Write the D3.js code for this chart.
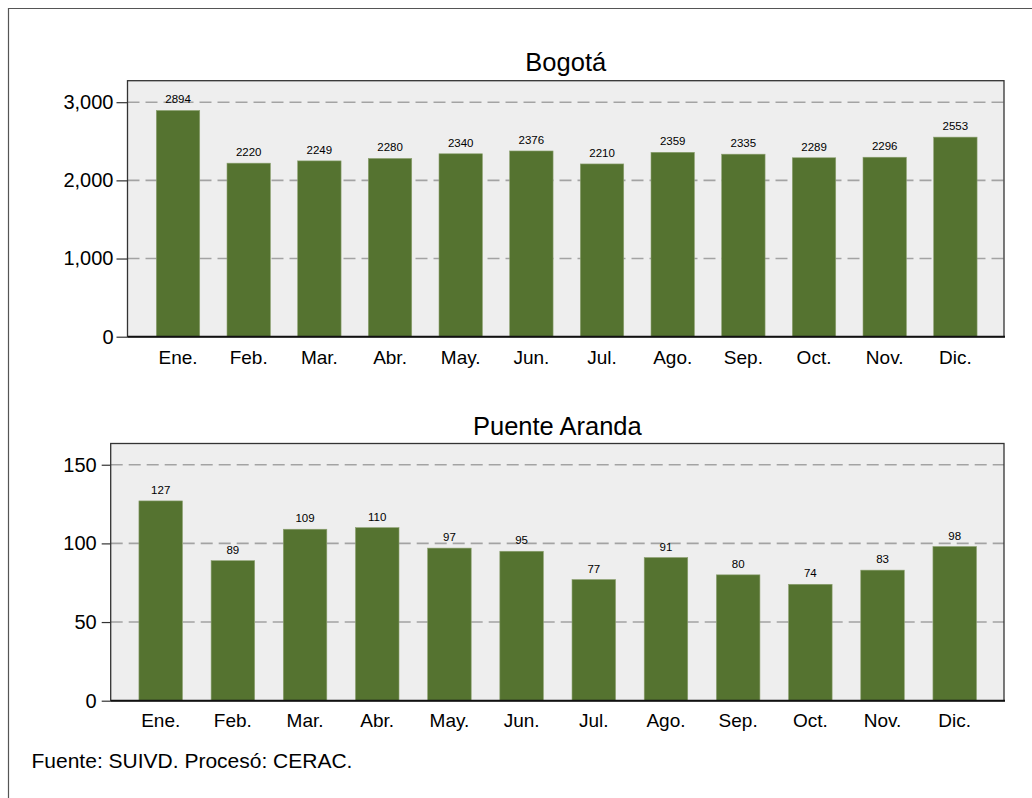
<!DOCTYPE html>
<html>
<head>
<meta charset="utf-8">
<script src="https://cdn.jsdelivr.net/npm/d3@7"></script>
<style>
  html, body { margin: 0; padding: 0; background: #fff; }
  svg text { font-family: "Liberation Sans", Arial, sans-serif; fill: #000; }
</style>
</head>
<body>
<svg id="chart" width="1032" height="798"></svg>
<script>
// Monthly counts, Bogotá and Puente Aranda
const months = ["Ene.", "Feb.", "Mar.", "Abr.", "May.", "Jun.", "Jul.", "Ago.", "Sep.", "Oct.", "Nov.", "Dic."];
const bogotaValues = [2894, 2220, 2249, 2280, 2340, 2376, 2210, 2359, 2335, 2289, 2296, 2553];
const puenteArandaValues = [127, 89, 109, 110, 97, 95, 77, 91, 80, 74, 83, 98];
const bogotaTicks = [0, 1000, 2000, 3000];
const puenteArandaTicks = [0, 50, 100, 150];
const sourceNote = "Fuente: SUIVD. Procesó: CERAC.";

const svg = d3.select("#chart");
const BAR = "#557330";

// outer frame (top and left edges)
svg.append("path")
  .attr("d", "M8.5,798 L8.5,8.5 L1032,8.5")
  .attr("fill", "none").attr("stroke", "#555").attr("stroke-width", 1.2);

function panel(cfg) {
  const g = svg.append("g");
  const { left, right, top, bottom } = cfg.plot;

  const y = d3.scaleLinear().domain([0, cfg.yMax]).range([bottom, top]);
  const x = d3.scaleBand().domain(months)
    .range(cfg.bandRange)
    .paddingInner(cfg.pad).paddingOuter(cfg.pad / 2);

  // plot background
  g.append("rect")
    .attr("x", left).attr("y", top)
    .attr("width", right - left).attr("height", bottom - top)
    .attr("fill", "#eeeeee");

  // dashed gridlines
  g.append("g").selectAll("line")
    .data(cfg.ticks.filter(d => d > 0))
    .join("line")
    .attr("x1", left).attr("x2", right)
    .attr("y1", d => y(d)).attr("y2", d => y(d))
    .attr("stroke", "#a3a3a3").attr("stroke-width", 1.6)
    .attr("stroke-dasharray", "12,6");

  // bars
  g.append("g").selectAll("rect")
    .data(cfg.values)
    .join("rect")
    .attr("x", (d, i) => x(months[i]))
    .attr("y", d => y(d))
    .attr("width", x.bandwidth())
    .attr("height", d => bottom - y(d))
    .attr("fill", BAR)
    .attr("stroke", "#8ca070").attr("stroke-width", 0.6);

  // value labels
  g.append("g").selectAll("text")
    .data(cfg.values)
    .join("text")
    .attr("x", (d, i) => x(months[i]) + x.bandwidth() / 2)
    .attr("y", d => y(d) - 7)
    .attr("text-anchor", "middle")
    .attr("font-size", 11.5)
    .text(d => d);

  // plot frame
  g.append("rect")
    .attr("x", left).attr("y", top)
    .attr("width", right - left).attr("height", bottom - top)
    .attr("fill", "none").attr("stroke", "#333").attr("stroke-width", 1.3);
  g.append("line")
    .attr("x1", left).attr("x2", right + 1)
    .attr("y1", bottom).attr("y2", bottom)
    .attr("stroke", "#111").attr("stroke-width", 2);

  // y axis
  const yAxis = d3.axisLeft(y)
    .tickValues(cfg.ticks)
    .tickSize(cfg.tickLen)
    .tickPadding(cfg.tickPad)
    .tickFormat(d3.format(","));
  const ya = g.append("g").attr("transform", `translate(${left},0)`).call(yAxis);
  ya.select(".domain").remove();
  ya.selectAll(".tick line").attr("stroke", "#333").attr("stroke-width", 1.2);
  ya.selectAll(".tick text")
    .attr("font-size", 20)
    .attr("font-family", "Liberation Sans, Arial, sans-serif")
    .attr("fill", "#000");

  // x axis labels
  const xAxis = d3.axisBottom(x).tickSize(0).tickPadding(0);
  const xa = g.append("g").attr("transform", `translate(0,${bottom})`).call(xAxis);
  xa.select(".domain").remove();
  xa.selectAll(".tick text")
    .attr("y", cfg.xLabelOffset).attr("dy", 0)
    .attr("font-size", 19)
    .attr("font-family", "Liberation Sans, Arial, sans-serif")
    .attr("fill", "#000");

  // panel title
  g.append("text")
    .attr("x", (left + right) / 2)
    .attr("y", cfg.titleY)
    .attr("text-anchor", "middle")
    .attr("font-size", 25.5)
    .text(cfg.title);
}

panel({
  title: "Bogotá",
  values: bogotaValues,
  ticks: bogotaTicks,
  yMax: 3275,
  plot: { left: 127.5, right: 1004, top: 80.7, bottom: 336.7 },
  bandRange: [142.7, 990.7],
  pad: 0.386,
  tickLen: 11,
  tickPad: 3,
  xLabelOffset: 27.5,
  titleY: 70.5
});

panel({
  title: "Puente Aranda",
  values: puenteArandaValues,
  ticks: puenteArandaTicks,
  yMax: 163.5,
  plot: { left: 110.7, right: 1004, top: 443.5, bottom: 700.7 },
  bandRange: [124.6, 990.8],
  pad: 0.397,
  tickLen: 9,
  tickPad: 5,
  xLabelOffset: 26,
  titleY: 435
});

// source note
svg.append("text")
  .attr("x", 31.5).attr("y", 768.3)
  .attr("font-size", 21)
  .text(sourceNote);
</script>
</body>
</html>
